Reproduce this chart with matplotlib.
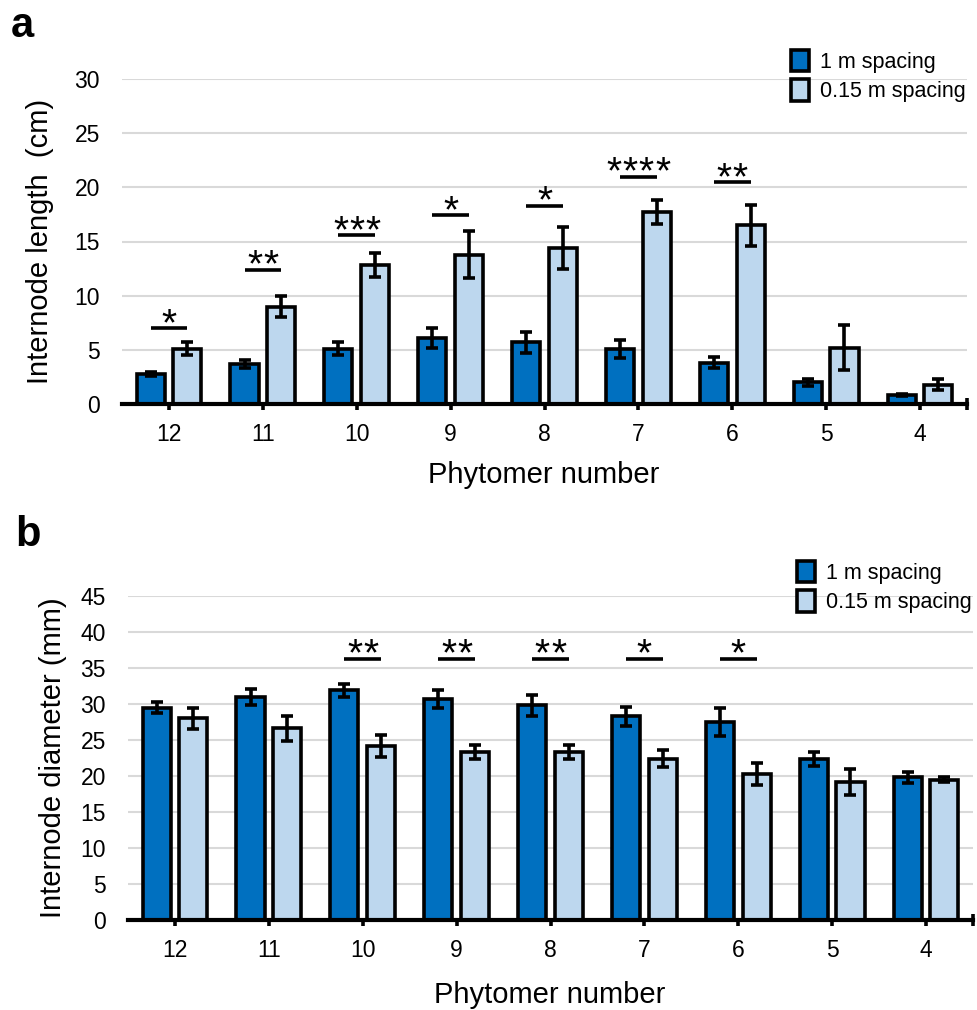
import numpy as np
import matplotlib
matplotlib.use('Agg')
import matplotlib.pyplot as plt

plt.rcParams['font.family'] = ['Liberation Sans', 'DejaVu Sans']

phytomer = ['12', '11', '10', '9', '8', '7', '6', '5', '4']
series = ['1 m spacing', '0.15 m spacing']

# a: internode length (cm)
len_1m = [2.8, 3.7, 5.1, 6.1, 5.7, 5.1, 3.8, 2.0, 0.8]
len_1m_err = [0.2, 0.4, 0.6, 0.9, 0.95, 0.85, 0.5, 0.3, 0.1]
len_015 = [5.1, 9.0, 12.8, 13.8, 14.4, 17.7, 16.5, 5.2, 1.8]
len_015_err = [0.6, 0.95, 1.1, 2.2, 1.9, 1.1, 1.9, 2.1, 0.55]
len_sig = ['*', '**', '***', '*', '*', '****', '**', '', '']
len_sig_y = [7.0, 12.4, 15.6, 17.45, 18.3, 21.0, 20.5, 0, 0]

# b: internode diameter (mm)
dia_1m = [29.5, 31.0, 31.9, 30.7, 29.8, 28.3, 27.5, 22.4, 19.8]
dia_1m_err = [0.8, 1.1, 0.9, 1.2, 1.5, 1.3, 2.0, 1.0, 0.8]
dia_015 = [28.0, 26.6, 24.2, 23.3, 23.3, 22.4, 20.3, 19.2, 19.5]
dia_015_err = [1.5, 1.7, 1.5, 1.0, 1.0, 1.2, 1.5, 1.8, 0.3]
dia_sig = ['', '', '**', '**', '**', '*', '*', '', '']
dia_sig_y = [36.3] * 9

dark = '#0070C0'
light = '#BDD7EE'
lw = 2.6
W, H = 977, 1010

fig = plt.figure(figsize=(W / 100, H / 100), dpi=100)
axa = fig.add_axes([122 / W, 1 - 404 / H, 845 / W, 325 / H])
axb = fig.add_axes([128 / W, 1 - 920 / H, 845 / W, 324 / H])


def panel(ax, v1, e1, v2, e2, sig, sig_y, ymax, ystep):
    x = np.arange(len(phytomer))
    off, w = 0.195, 0.30
    b1 = ax.bar(x - off, v1, w, color=dark, edgecolor='black', linewidth=lw,
                label=series[0], zorder=3)
    b2 = ax.bar(x + off, v2, w, color=light, edgecolor='black', linewidth=lw,
                label=series[1], zorder=3)
    ax.errorbar(x - off, v1, yerr=e1, fmt='none', ecolor='black',
                elinewidth=lw, capsize=4, capthick=lw, zorder=4)
    ax.errorbar(x + off, v2, yerr=e2, fmt='none', ecolor='black',
                elinewidth=lw, capsize=4, capthick=lw, zorder=4)
    for i, s in enumerate(sig):
        if not s:
            continue
        ax.plot([x[i] - off, x[i] + off], [sig_y[i], sig_y[i]], color='black',
                lw=lw, solid_capstyle='butt', zorder=4)
        n = len(s)
        for k in range(n):
            ax.annotate('*', xy=(x[i], sig_y[i]),
                        xytext=((k - (n - 1) / 2) * 11.6, -5),
                        textcoords='offset points', ha='center', va='baseline',
                        fontsize=28)
    ax.set_xlim(-0.5, 8.5)
    ax.set_ylim(0, ymax)
    ax.set_yticks(np.arange(0, ymax + 1, ystep))
    ax.set_xticks(x)
    ax.set_xticklabels(phytomer)
    ax.set_xticks([8.5], minor=True)
    ax.tick_params(axis='x', which='major', direction='out', length=4,
                   width=lw, labelsize=16.5, pad=10)
    ax.tick_params(axis='x', which='minor', direction='inout', length=8,
                   width=lw)
    ax.tick_params(axis='y', length=0, labelsize=16.5, pad=16)
    ax.yaxis.grid(True, color='#d9d9d9', lw=1.5, zorder=0)
    ax.set_axisbelow(True)
    for sp in ['top', 'right', 'left']:
        ax.spines[sp].set_visible(False)
    ax.spines['bottom'].set_linewidth(lw + 0.4)
    ax.spines['bottom'].set_zorder(5)
    return b1, b2


ha = panel(axa, len_1m, len_1m_err, len_015, len_015_err, len_sig, len_sig_y, 30, 5)
hb = panel(axb, dia_1m, dia_1m_err, dia_015, dia_015_err, dia_sig, dia_sig_y, 45, 5)

for ax, pos in [(axa, (791, 50)), (axb, (797, 561))]:
    ax.legend(loc='upper left', bbox_to_anchor=(pos[0] / W, 1 - pos[1] / H),
              bbox_transform=fig.transFigure, frameon=False, fontsize=15.5,
              borderpad=0, borderaxespad=0, handlelength=0.85,
              handleheight=1.15, handletextpad=0.5, labelspacing=0.3)

fig.text(40 / W, 1 - 241 / H, 'Internode length  (cm)', rotation=90,
         ha='center', va='center', fontsize=21)
fig.text(53 / W, 1 - 758 / H, 'Internode diameter (mm)', rotation=90,
         ha='center', va='center', fontsize=21)
fig.text(544 / W, 1 - 475 / H, 'Phytomer number', ha='center', va='center',
         fontsize=21)
fig.text(550 / W, 1 - 995 / H, 'Phytomer number', ha='center', va='center',
         fontsize=21)
fig.text(11 / W, 1 - 6 / H, 'a', ha='left', va='top', fontsize=30,
         fontweight='bold')
fig.text(15 / W, 1 - 515 / H, 'b', ha='left', va='top', fontsize=30,
         fontweight='bold')

fig.savefig('out.png', dpi=100)
